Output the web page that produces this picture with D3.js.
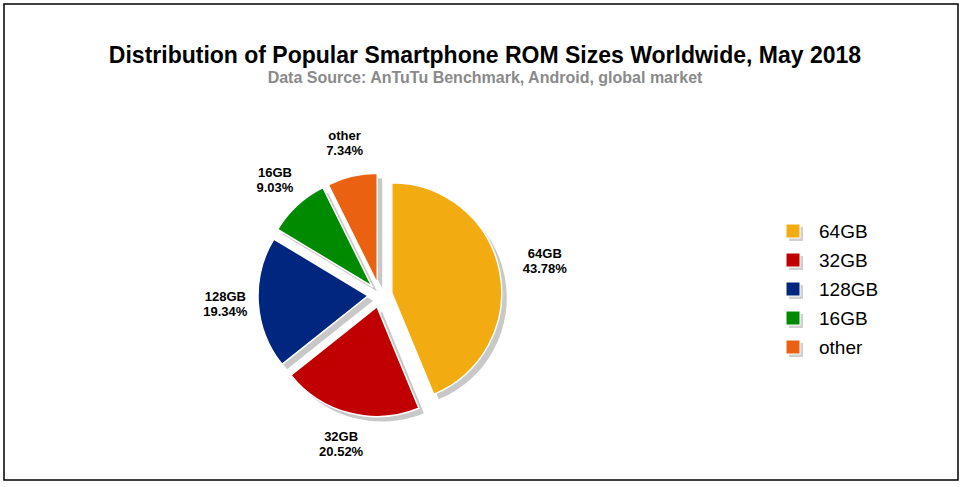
<!DOCTYPE html>
<html>
<head>
<meta charset="utf-8">
<script src="https://cdn.jsdelivr.net/npm/d3@7"></script>
<style>
body { margin: 0; background: #fff; }
text { font-family: "Liberation Sans", Arial, sans-serif; }
</style>
</head>
<body>
<svg id="chart" width="963" height="487"></svg>
<script>
var categories = ["64GB", "32GB", "128GB", "16GB", "other"];
var shares = [43.78, 20.52, 19.34, 9.03, 7.34];
var colors = ["#f2ab10", "#c00000", "#002680", "#008a00", "#ea6112"];

var svg = d3.select("#chart");
svg.append("rect").attr("x", 4).attr("y", 4).attr("width", 954).attr("height", 476)
    .attr("fill", "#fff").attr("stroke", "#000").attr("stroke-width", 1.5);

svg.append("text").attr("x", 485).attr("y", 63).attr("text-anchor", "middle")
    .attr("font-size", 23).attr("font-weight", "bold")
    .text("Distribution of Popular Smartphone ROM Sizes Worldwide, May 2018");
svg.append("text").attr("x", 485).attr("y", 83).attr("text-anchor", "middle")
    .attr("font-size", 16).attr("font-weight", "bold").attr("fill", "#8a8a8a")
    .text("Data Source: AnTuTu Benchmark, Android, global market");

var data = categories.map(function(c, i) { return { name: c, value: shares[i], color: colors[i] }; });
var pie = d3.pie().sort(null).value(function(d) { return d.value; });
var arcs = pie(data);
var r = 110, explode = 12;
var arc = d3.arc().innerRadius(0).outerRadius(r);

var g = svg.append("g").attr("transform", "translate(380,295)");

function off(d, k) {
    var a = (d.startAngle + d.endAngle) / 2;
    return [Math.sin(a) * k, -Math.cos(a) * k];
}

g.selectAll("path.shadow").data(arcs).enter().append("path")
    .attr("d", arc).attr("fill", "#c8c8c8")
    .attr("transform", function(d) { var o = off(d, explode); return "translate(" + (o[0] + 5) + "," + (o[1] + 5) + ")"; });

g.selectAll("path.slice").data(arcs).enter().append("path")
    .attr("d", arc).attr("fill", function(d) { return d.data.color; })
    .attr("stroke", "#fff").attr("stroke-width", 1.5)
    .attr("transform", function(d) { var o = off(d, explode); return "translate(" + o[0] + "," + o[1] + ")"; });

var labels = g.selectAll("text.lbl").data(arcs).enter().append("text")
    .attr("text-anchor", "middle").attr("font-size", 13).attr("font-weight", "bold")
    .attr("transform", function(d) { var o = off(d, d.index === 0 ? 168 : 155); return "translate(" + o[0] + "," + (o[1] - 4) + ")"; });
labels.append("tspan").attr("x", 0).attr("dy", 0).text(function(d) { return d.data.name; });
labels.append("tspan").attr("x", 0).attr("dy", 15).text(function(d) { return d.data.value.toFixed(2) + "%"; });

var leg = svg.selectAll("g.leg").data(data).enter().append("g")
    .attr("transform", function(d, i) { return "translate(786," + (224 + i * 29) + ")"; });
leg.append("rect").attr("x", 3).attr("y", 3).attr("width", 14).attr("height", 14).attr("fill", "#d0d0d0");
leg.append("rect").attr("width", 14).attr("height", 14).attr("fill", function(d) { return d.color; })
    .attr("stroke", "#fff").attr("stroke-width", 1);
leg.append("text").attr("x", 33).attr("y", 14).attr("font-size", 19).text(function(d) { return d.name; });
</script>
</body>
</html>
